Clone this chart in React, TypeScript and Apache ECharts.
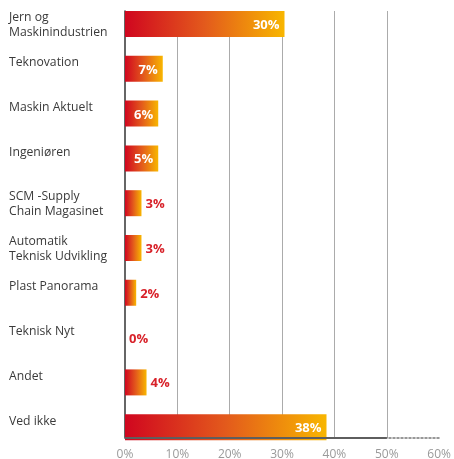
import React, { useEffect, useRef } from "react";
import * as echarts from "echarts";

const categories = [
  "Jern og\nMaskinindustrien",
  "Teknovation",
  "Maskin Aktuelt",
  "Ingeniøren",
  "SCM -Supply\nChain Magasinet",
  "Automatik\nTeknisk Udvikling",
  "Plast Panorama",
  "Teknisk Nyt",
  "Andet",
  "Ved ikke",
];
// bar lengths
const values = [30, 7.1, 6.25, 6.25, 3.1, 3.1, 2.1, 0, 4.05, 37.9];
// printed labels
const valueLabels = ["30%", "7%", "6%", "5%", "3%", "3%", "2%", "0%", "4%", "38%"];
const tickValues = [0, 10, 20, 30, 40, 50, 60];

const FONT = "'Open Sans', sans-serif";

export default function App() {
  const ref = useRef<HTMLDivElement>(null);
  useEffect(() => {
    if (!ref.current) return;
    const chart = echarts.init(ref.current, undefined, { renderer: "svg" });
    const grad = () =>
      new echarts.graphic.LinearGradient(0, 0, 1, 0, [
        { offset: 0, color: "#d0061f" },
        { offset: 0.5, color: "#e35a1c" },
        { offset: 1, color: "#f8b600" },
      ]);
    const barData = values.map((v, i) => ({
      value: v,
      itemStyle: { color: grad() },
      label:
        v >= 5
          ? { position: "insideRight", distance: 5, color: "#ffffff", formatter: valueLabels[i] }
          : { position: "right", distance: 4, color: "#d8222a", formatter: valueLabels[i] },
    }));
    chart.setOption({
      animation: false,
      grid: [
        { left: 125, width: 319, top: 1.6, height: 448 },
        { left: 125, width: 319, top: 11, height: 429 },
      ],
      xAxis: [
        { gridIndex: 0, type: "value", min: 0, max: 60, show: false },
        {
          gridIndex: 1,
          type: "value",
          min: tickValues[0],
          max: tickValues[tickValues.length - 1],
          interval: 10,
          axisLine: {
            show: true,
            lineStyle: { color: "#777", width: 1.5, type: [2, 2] },
          },
          axisTick: { show: false },
          axisLabel: {
            formatter: "{value}%",
            color: "#9a9a9a",
            fontSize: 12,
            fontFamily: FONT,
            margin: 9,
          },
          splitLine: {
            show: true,
            showMinLine: false,
            showMaxLine: false,
            lineStyle: { color: "#ababab", width: 1 },
          },
        },
      ],
      yAxis: [
        {
          gridIndex: 0,
          type: "category",
          data: categories,
          inverse: true,
          axisLine: { show: false },
          axisTick: { show: false },
          axisLabel: {
            align: "left",
            margin: 116,
            fontFamily: FONT,
            fontSize: 12.2,
            color: "#3a3a3a",
            formatter: (val: string) => {
              const lines = val.split("\n");
              if (lines.length === 1) return `{s|${val}}`;
              return lines.map((l) => `{d|${l}}`).join("\n");
            },
            rich: {
              s: {
                fontFamily: FONT,
                fontSize: 12.2,
                color: "#3a3a3a",
                lineHeight: 15,
                padding: [0, 0, 14, 0],
              },
              d: {
                fontFamily: FONT,
                fontSize: 12.2,
                color: "#3a3a3a",
                lineHeight: 15,
              },
            },
          },
        },
        {
          gridIndex: 1,
          type: "value",
          min: 0,
          max: 1,
          axisLine: { show: true, lineStyle: { color: "#333", width: 1.5 } },
          axisTick: { show: false },
          axisLabel: { show: false },
          splitLine: { show: false },
        },
      ],
      series: [
        {
          type: "line",
          xAxisIndex: 1,
          yAxisIndex: 1,
          data: [[0, 0]],
          showSymbol: false,
          symbol: "none",
          lineStyle: { opacity: 0 },
          silent: true,
          markLine: {
            silent: true,
            symbol: "none",
            label: { show: false },
            lineStyle: { color: "#5e5e5e", width: 2, type: "solid" },
            data: [[{ coord: [0, 0] }, { coord: [50, 0] }]],
          },
        },
        {
          type: "bar",
          xAxisIndex: 0,
          yAxisIndex: 0,
          data: barData,
          barWidth: 26,
          label: {
            show: true,
            fontFamily: FONT,
            fontWeight: "bold",
            fontSize: 13,
          },
        },
      ],
    });
    return () => chart.dispose();
  }, []);
  return (
    <div
      ref={ref}
      style={{ position: "fixed", left: 0, top: 0, width: 454, height: 459 }}
    />
  );
}
